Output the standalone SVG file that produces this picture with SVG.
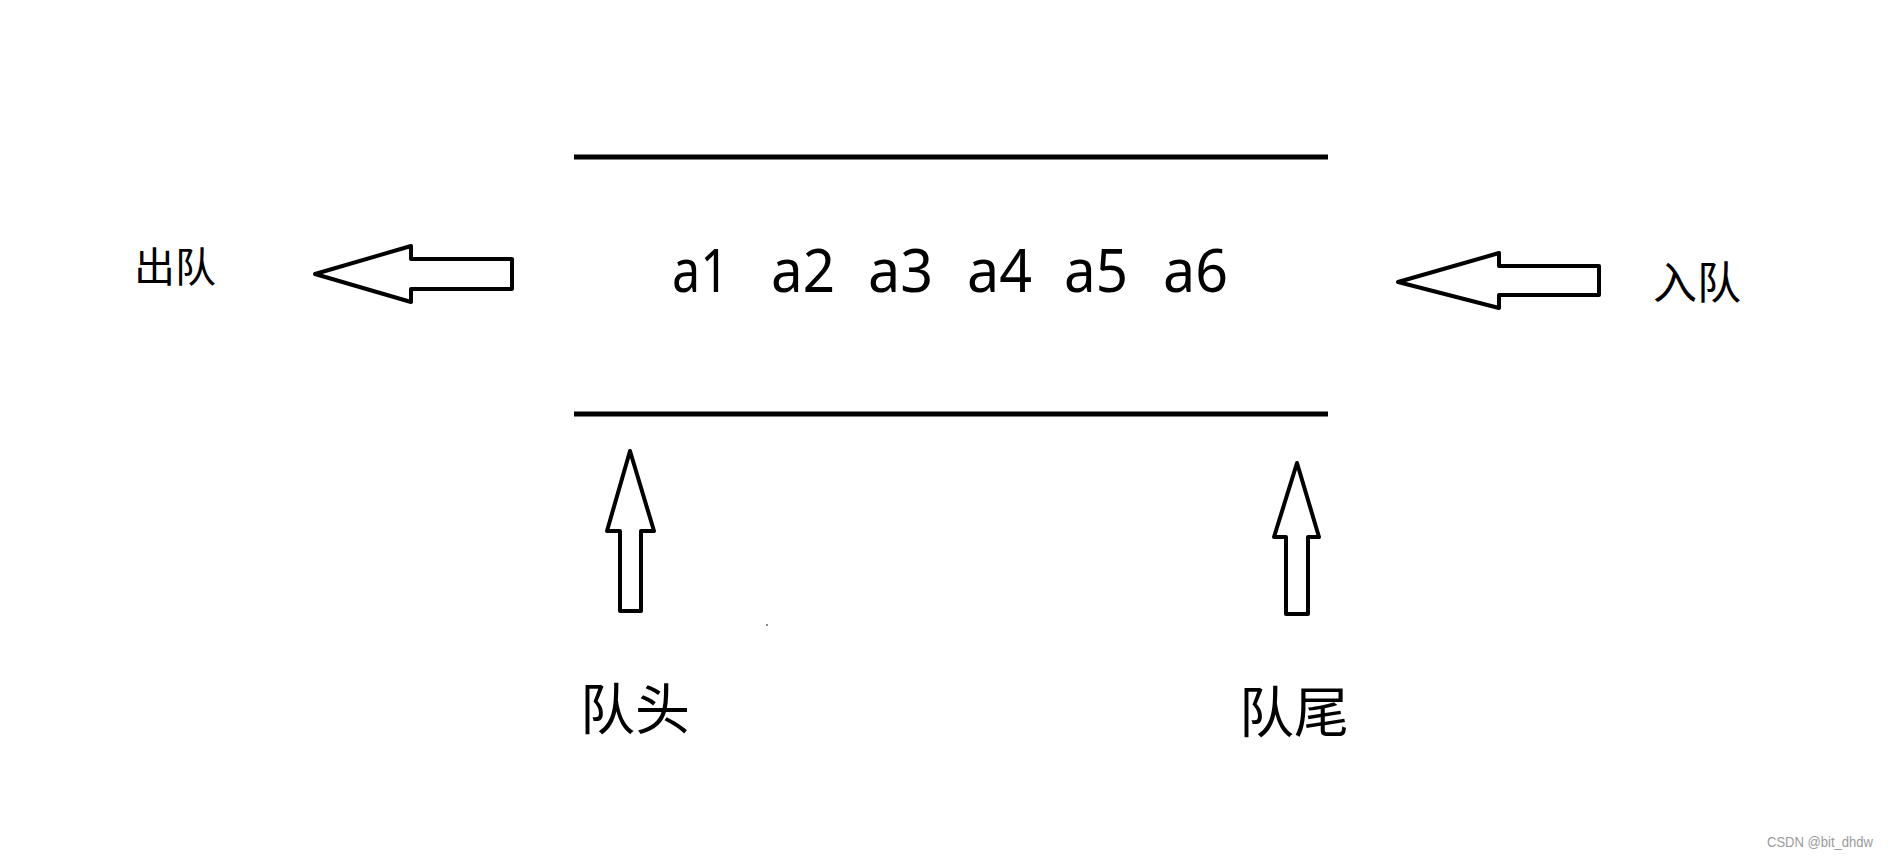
<svg xmlns="http://www.w3.org/2000/svg" width="1889" height="859" viewBox="0 0 1889 859">
<style>
.rail{stroke:#000;stroke-width:5;fill:none}
.arrow{fill:#fff;stroke:#000;stroke-width:4;stroke-linejoin:round}
.cjk{font-family:"Noto Sans CJK SC","Noto Sans",sans-serif;fill:#000}
.item{font-family:"Noto Sans","Open Sans",sans-serif;font-size:61px;fill:#000}
.wm{font-family:"Liberation Sans",Arial,sans-serif;font-size:14px;fill:#9a9a9a}
</style>
<rect width="1889" height="859" fill="#fff"/>
<g id="queue">
<line class="rail" x1="574" y1="157" x2="1328" y2="157"/>
<line class="rail" x1="574" y1="414" x2="1328" y2="414"/>
</g>
<g id="elements">
<text class="item" x="672" y="292" textLength="57" lengthAdjust="spacingAndGlyphs">a1</text>
<text class="item" x="771" y="292" textLength="64" lengthAdjust="spacingAndGlyphs">a2</text>
<text class="item" x="868" y="292" textLength="65" lengthAdjust="spacingAndGlyphs">a3</text>
<text class="item" x="967" y="292" textLength="65" lengthAdjust="spacingAndGlyphs">a4</text>
<text class="item" x="1064" y="292" textLength="64" lengthAdjust="spacingAndGlyphs">a5</text>
<text class="item" x="1163" y="292" textLength="65" lengthAdjust="spacingAndGlyphs">a6</text>
</g>
<g id="connectors">
<polygon id="arrow-dequeue" class="arrow" points="315,274 411,246 411,259 512,259 512,289 411,289 411,302"/>
<polygon id="arrow-enqueue" class="arrow" points="1398,282 1499,253 1499,266 1599,266 1599,295 1499,295 1499,308"/>
<polygon id="arrow-head" class="arrow" points="630,451 654,531 641,531 641,611 620,611 620,531 607,531"/>
<polygon id="arrow-tail" class="arrow" points="1297,463 1319,537 1308,537 1308,614 1286,614 1286,537 1274,537"/>
</g>
<g id="label-dequeue"><text class="cjk" x="134" y="282" font-size="41">出队</text></g>
<g id="label-enqueue"><text class="cjk" x="1653" y="299" font-size="44">入队</text></g>
<g id="label-head"><text class="cjk" x="580" y="729" font-size="55">队头</text></g>
<g id="label-tail"><text class="cjk" x="1239" y="732" font-size="55">队尾</text></g>
<circle cx="767" cy="625" r="1" fill="#666"/>
<text class="wm" x="1767" y="847" textLength="106" lengthAdjust="spacingAndGlyphs">CSDN @bit_dhdw</text>
</svg>
